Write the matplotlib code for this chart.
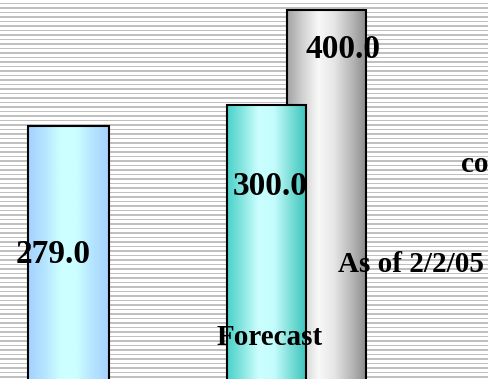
import numpy as np
import matplotlib.pyplot as plt
from matplotlib.colors import LinearSegmentedColormap
from matplotlib.patches import Rectangle

# Valores de las barras
labels = ['Actual', 'Forecast', 'As of 2/2/05']
values = [279.0, 300.0, 400.0]

# Posiciones (en pixeles) y colores del degradado de cada barra
x_left = [28, 227, 287]
widths = [81, 79, 79]
gradients = [
    ['#a4d2ff', '#b4e4ff', '#ccffff', '#ccffff', '#b4e4ff', '#a4d2ff'],
    ['#48d2ca', '#8ae6e0', '#ccffff', '#c4fcfc', '#80e0da', '#3cc6be'],
    ['#a2a2a2', '#d2d2d2', '#f8f8f8', '#e6e6e6', '#bcbcbc', '#8e8e8e'],
]
draw_order = [0, 2, 1]  # la barra gris queda detras de la verde

W, H = 488, 379
fig = plt.figure(figsize=(W / 100, H / 100), dpi=100)

# Fondo gris con rayas blancas horizontales
bg = fig.add_axes([0, 0, 1, 1])
bg.set_xlim(0, W)
bg.set_ylim(H, 0)
bg.set_facecolor('#c0c0c0')
bg.hlines(np.arange(0.5, H, 4.5), 0, W, colors='white', linewidth=0.9,
          antialiased=False)
bg.axis('off')
fig.patch.set_facecolor('#c0c0c0')

# Ejes de las barras: el cero queda por debajo del borde inferior
ax = fig.add_axes([0, 0, 1, 1])
ax.patch.set_alpha(0)
ax.set_xlim(0, W)
ax.set_ylim(13.7, 410.4)
ax.axis('off')

for z, i in enumerate(draw_order):
    v = values[i]
    cmap = LinearSegmentedColormap.from_list('g%d' % i, gradients[i])
    rect = Rectangle((x_left[i], 0), widths[i], v, facecolor='none',
                     edgecolor='black', linewidth=1.5, zorder=3 + 2 * z)
    ax.add_patch(rect)
    img = ax.imshow(np.linspace(0, 1, 256).reshape(1, -1), cmap=cmap,
                    extent=(x_left[i], x_left[i] + widths[i], 0, v),
                    aspect='auto', zorder=2 + 2 * z, interpolation='bilinear')
    img.set_clip_path(rect)

ax.set_xlim(0, W)
ax.set_ylim(13.7, 410.4)


def px(x, y):
    return x / W, 1 - y / H


font = dict(family='Liberation Serif', fontweight='bold', color='black',
            zorder=20)
label_pos = [(53.5, 263), (270, 195), (342.5, 58)]
for v, (x, y) in zip(values, label_pos):
    ax.text(*px(x, y), f'{v:.1f}', transform=ax.transAxes, ha='center',
            va='baseline', fontsize=24, **font)

ax.text(*px(269.5, 345), labels[1], transform=ax.transAxes, ha='center',
        va='baseline', fontsize=21, **font)
ax.text(*px(410.5, 272), labels[2], transform=ax.transAxes, ha='center',
        va='baseline', fontsize=21, **font)
ax.text(*px(461, 172), 'co', transform=ax.transAxes, ha='left',
        va='baseline', fontsize=21, **font)

fig.savefig('out.png', dpi=100, facecolor=fig.get_facecolor())
